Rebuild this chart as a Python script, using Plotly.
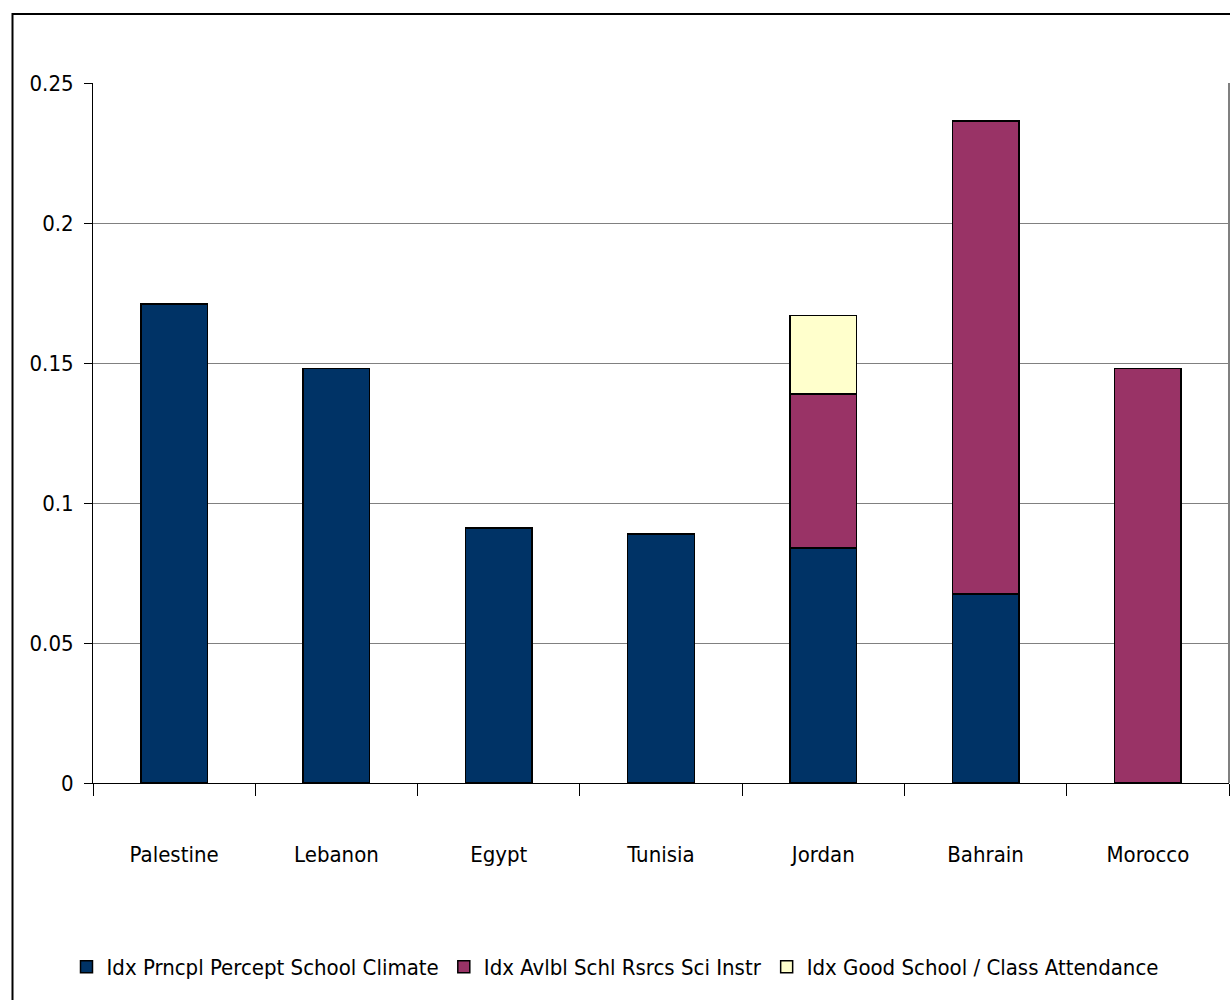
import plotly.graph_objects as go

countries = ["Palestine", "Lebanon", "Egypt", "Tunisia", "Jordan", "Bahrain", "Morocco"]
school_climate = [0.171, 0.148, 0.091, 0.089, 0.084, 0.0675, 0]
sci_resources = [0, 0, 0, 0, 0.055, 0.169, 0.148]
attendance = [0, 0, 0, 0, 0.028, 0, 0]

series_names = [
    "Idx Prncpl Percept School Climate",
    "Idx Avlbl Schl Rsrcs Sci Instr",
    "Idx Good School / Class Attendance",
]
series_colors = ["#003366", "#993366", "#FFFFCC"]
y_ticks = [0, 0.05, 0.1, 0.15, 0.2, 0.25]
y_tick_text = ["0", "0.05", "0.1", "0.15", "0.2", "0.25"]

FONT = "Liberation Sans Narrow, Arial Narrow, DejaVu Sans Condensed, sans-serif"
FS = 22

fig = go.Figure()
for name, vals, col in zip(series_names, [school_climate, sci_resources, attendance], series_colors):
    fig.add_trace(go.Bar(
        x=countries, y=vals, name=name,
        marker=dict(color=col, line=dict(color="#000000", width=1.5)),
        hoverinfo="skip",
    ))

W, H = 1230, 1000
L, R, T, B = 93, 1, 83, 217
pw, ph = W - L - R, H - T - B

# outer chart-area frame
fig.add_shape(type="rect", xref="paper", yref="paper",
              x0=(12.5 - L) / pw, x1=(W + 5 - L) / pw,
              y0=(H - 1005 - B) / ph, y1=(H - 14 - B) / ph,
              line=dict(color="#000000", width=2), fillcolor="rgba(0,0,0,0)", layer="below")

fig.update_layout(
    width=W, height=H,
    margin=dict(l=L, r=R, t=T, b=B, autoexpand=False),
    barmode="stack", bargap=0.59,
    plot_bgcolor="#FFFFFF", paper_bgcolor="#FFFFFF",
    font=dict(family=FONT, size=FS, color="#000000"),
    showlegend=True,
    legend=dict(orientation="h", xref="container", yref="container",
                x=0.5, xanchor="center", y=0.033, yanchor="middle",
                font=dict(size=FS, family=FONT), itemwidth=30,
                traceorder="normal", bgcolor="rgba(0,0,0,0)"),
    xaxis=dict(
        showline=True, linecolor="#000000", linewidth=1,
        ticks="outside", tickson="boundaries", ticklen=12, tickcolor="#000000",
        ticklabelstandoff=52, tickfont=dict(size=FS, family=FONT),
        showgrid=False, mirror=False,
    ),
    yaxis=dict(
        range=[0, 0.25], tickvals=y_ticks, ticktext=y_tick_text,
        showline=True, linecolor="#000000", linewidth=1,
        ticks="outside", ticklen=8, tickcolor="#000000",
        ticklabelstandoff=6, tickfont=dict(size=FS, family=FONT),
        showgrid=True, gridcolor="#808080", gridwidth=1, zeroline=False,
    ),
)
# right plot border
fig.add_shape(type="line", xref="paper", yref="paper", x0=1, x1=1, y0=0, y1=1,
              line=dict(color="#808080", width=2))

fig.write_html("out.html")
